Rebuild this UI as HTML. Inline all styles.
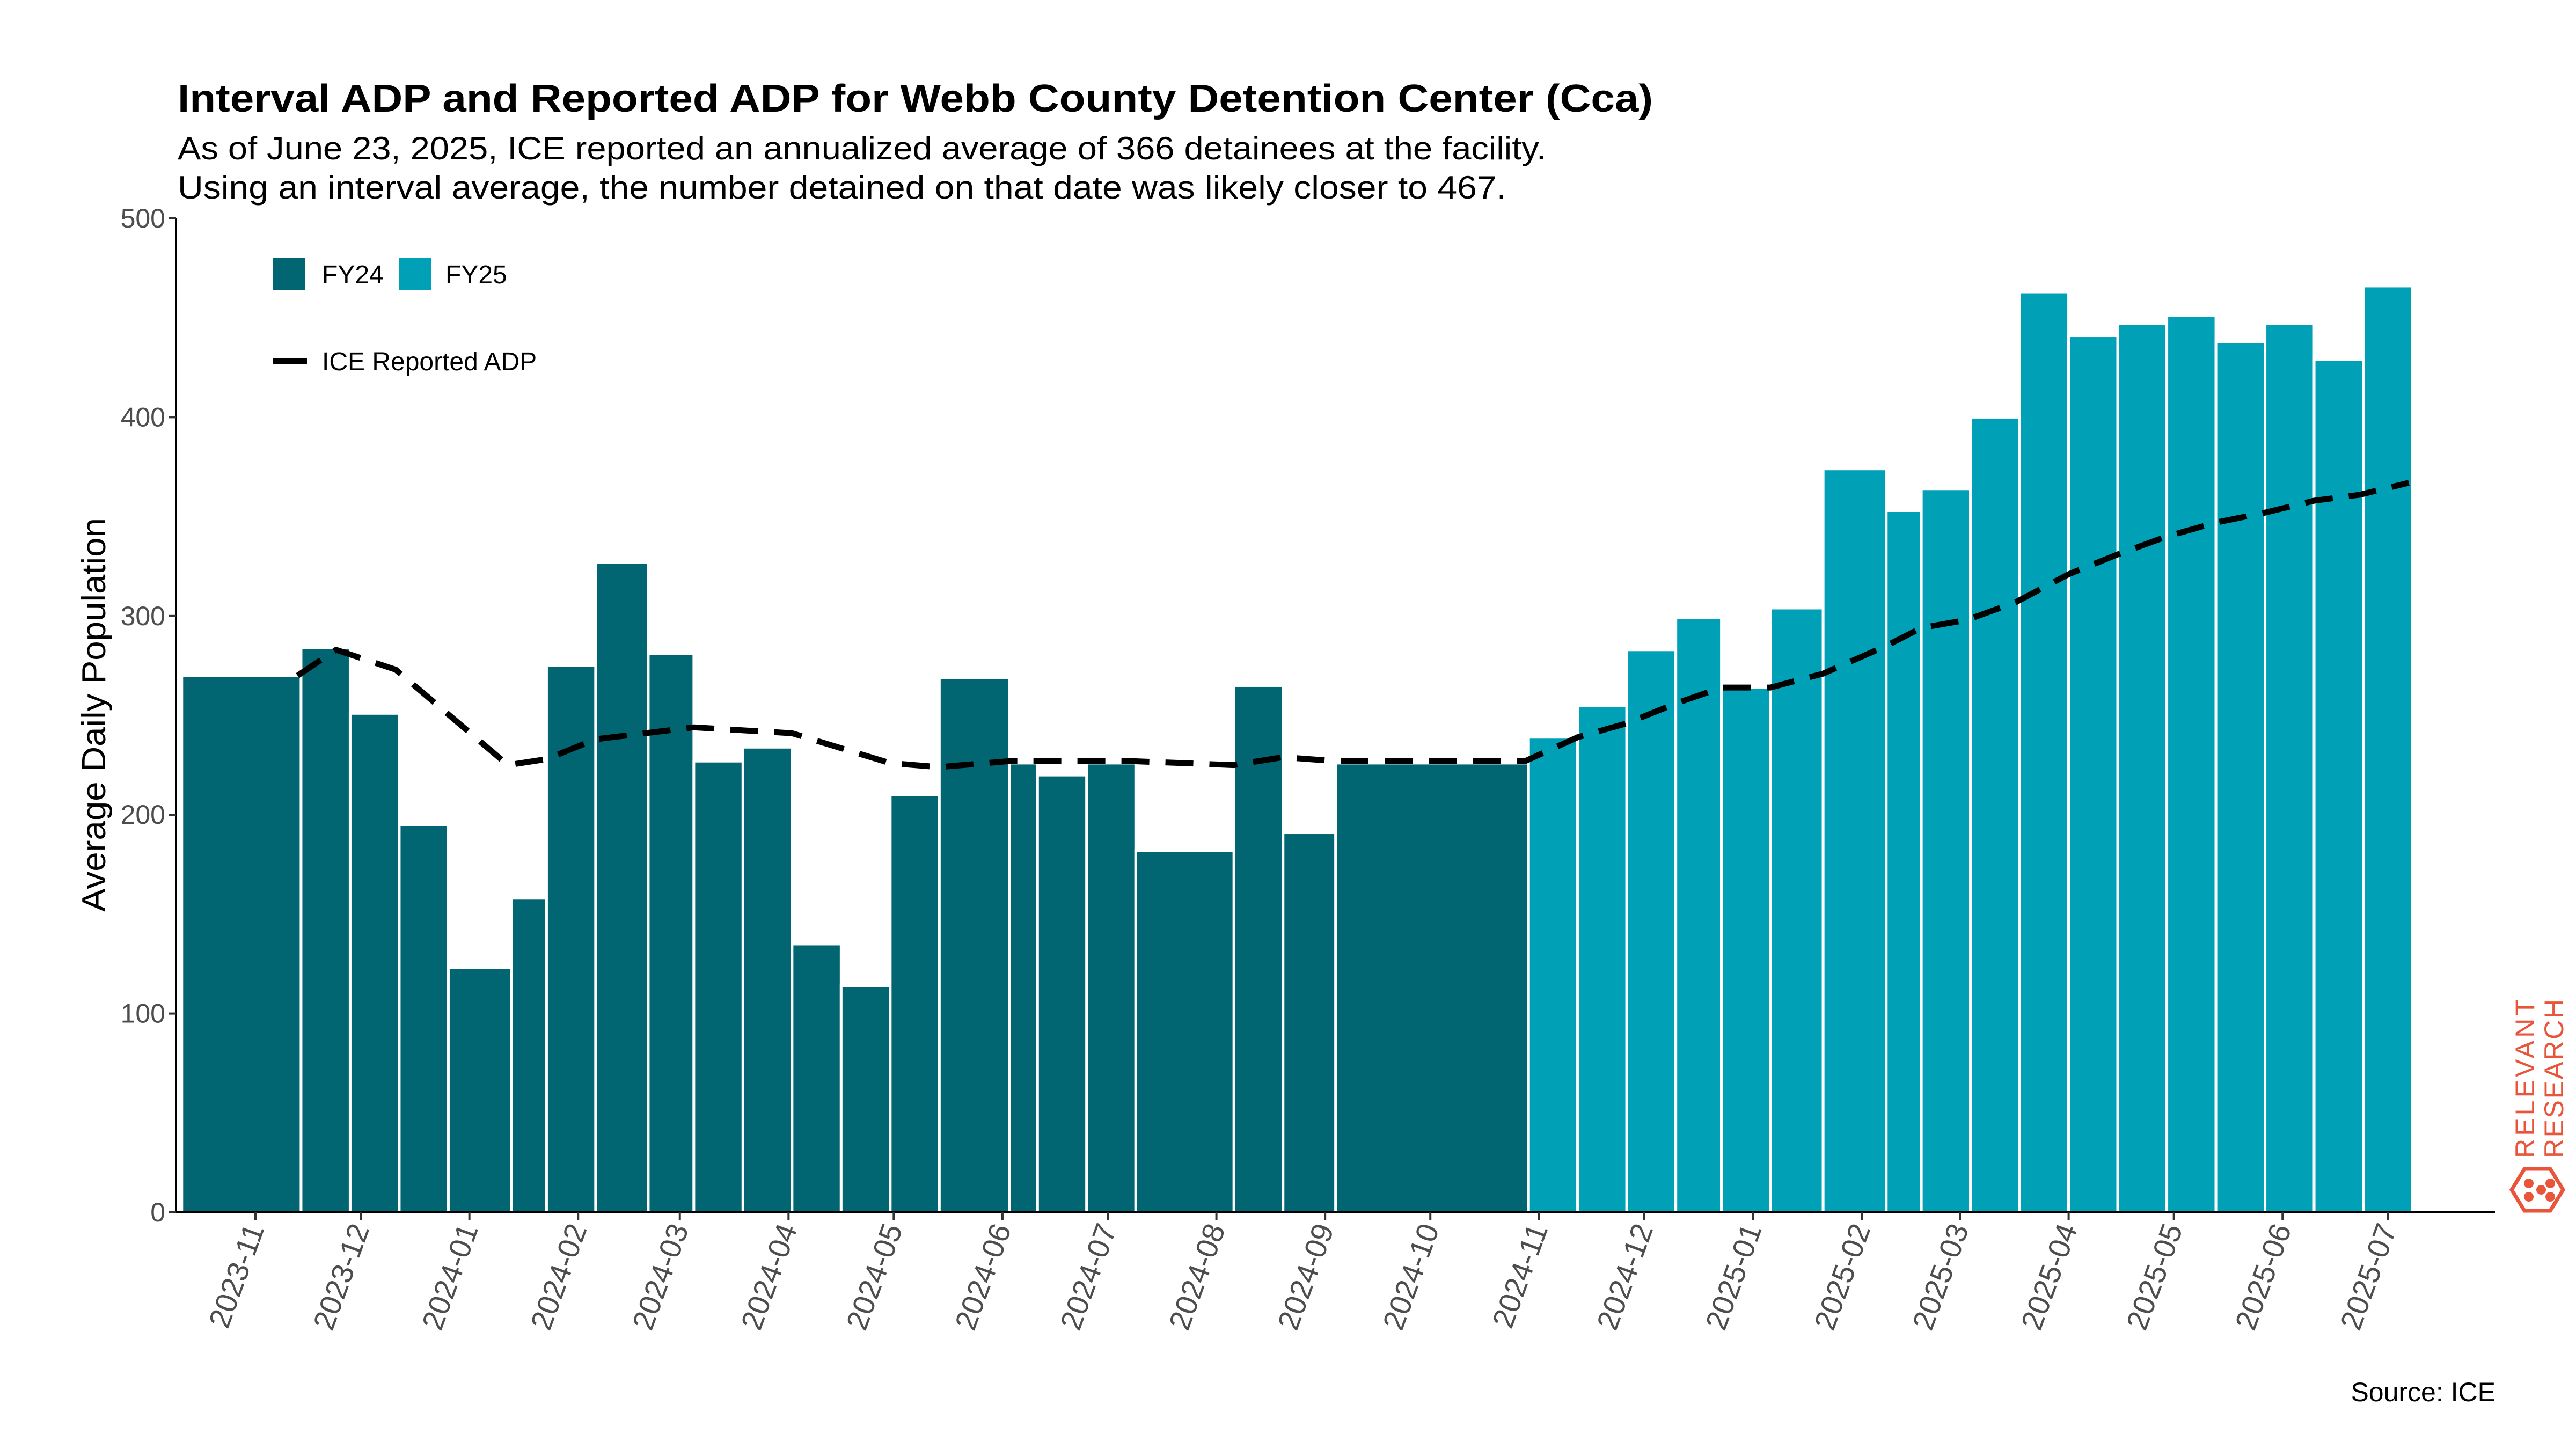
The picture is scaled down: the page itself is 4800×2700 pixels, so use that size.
<!DOCTYPE html>
<html><head><meta charset="utf-8"><style>
html,body{margin:0;padding:0;background:#fff;}
svg{display:block;font-family:"Liberation Sans",sans-serif;}
</style></head><body>
<svg id="chart" width="4800" height="2700" viewBox="0 0 4800 2700" xmlns="http://www.w3.org/2000/svg">
<rect width="4800" height="2700" fill="#fff"/>
<text x="331" y="208" font-size="72" font-weight="bold" textLength="2749" lengthAdjust="spacingAndGlyphs">Interval ADP and Reported ADP for Webb County Detention Center (Cca)</text>
<text x="331" y="297" font-size="60" textLength="2550" lengthAdjust="spacingAndGlyphs">As of June 23, 2025, ICE reported an annualized average of 366 detainees at the facility.</text>
<text x="331" y="370" font-size="60" textLength="2476" lengthAdjust="spacingAndGlyphs">Using an interval average, the number detained on that date was likely closer to 467.</text>
<g id="bars"></g>
<g id="line"></g>
<g id="axes"></g>
<text transform="translate(196,1332) rotate(-90)" text-anchor="middle" font-size="62" textLength="734" lengthAdjust="spacingAndGlyphs">Average Daily Population</text>
<g>
<rect x="508" y="480" width="61" height="61" fill="#016572"/>
<text x="600" y="528" font-size="48">FY24</text>
<rect x="744" y="480" width="60" height="61" fill="#00a1b7"/>
<text x="830" y="528" font-size="48">FY25</text>
<line x1="508" y1="673" x2="572" y2="673" stroke="#000" stroke-width="11"/>
<text x="600" y="690" font-size="48">ICE Reported ADP</text>
</g>
<text x="4650" y="2611" font-size="50" text-anchor="end">Source: ICE</text>
<g fill="#e8553a">
<text transform="translate(4722,2158) rotate(-90)" font-size="50" textLength="296" lengthAdjust="spacing">RELEVANT</text>
<text transform="translate(4776,2158) rotate(-90)" font-size="50" textLength="296" lengthAdjust="spacing">RESEARCH</text>
<polygon points="4704,2178 4752,2178 4776,2217 4752,2256 4704,2256 4680,2217" fill="none" stroke="#e8553a" stroke-width="7"/>
<circle cx="4712" cy="2205" r="9"/><circle cx="4712" cy="2230" r="9"/><circle cx="4735" cy="2217" r="9"/><circle cx="4752" cy="2205" r="9"/><circle cx="4752" cy="2230" r="9"/>
</g>
</svg>
<script>
// Bar interval edges, in days since 2023-11-01
const edgeDays = [-21,13,27,41,55,73,83,97,112,125,139,153,167,181,195,215,223,237,251,279,293,308,363,377,391,405,418,432,447,465,475,489,503,517,531,545,559,573,587,601,615];
const intervalADP = [270,284,251,195,123,158,275,327,281,227,234,135,114,210,269,226,220,226,182,265,191,226,239,255,283,299,264,304,374,353,364,400,463,441,447,451,438,447,429,466];
const fiscalYear = ["FY24","FY24","FY24","FY24","FY24","FY24","FY24","FY24","FY24","FY24","FY24","FY24","FY24","FY24","FY24","FY24","FY24","FY24","FY24","FY24","FY24","FY24","FY25","FY25","FY25","FY25","FY25","FY25","FY25","FY25","FY25","FY25","FY25","FY25","FY25","FY25","FY25","FY25","FY25","FY25"];
const lineDays = [12,23,40,58,72,83,97,125,153,181,195,215,250,279,293,308,362,377,391,405,418,432,447,465,475,488,502,517,531,545,559,573,587,600,614];
const reportedADP = [270,283,273,246,225,228,238,244,241,226,224,227,227,225,229,227,227,239,246,256,264,264,271,285,294,298,307,321,331,340,347,352,358,361,367];
const xTickLabels = ["2023-11","2023-12","2024-01","2024-02","2024-03","2024-04","2024-05","2024-06","2024-07","2024-08","2024-09","2024-10","2024-11","2024-12","2025-01","2025-02","2025-03","2025-04","2025-05","2025-06","2025-07"];
const yTicks = [0,100,200,300,400,500];

const NS = "http://www.w3.org/2000/svg";
const X0 = 476, PXD = 6.535, Y0 = 2259, PXV = 3.704;
const AXL = 328, AXR = 4650;
function x(d){ return X0 + d*PXD; }
function y(v){ return Y0 - v*PXV; }
function dayOf(s){ const p=s.split("-"); return (Date.UTC(+p[0],+p[1]-1,1)-Date.UTC(2023,10,1))/86400000; }
function mk(tag, attrs, parent){ const e=document.createElementNS(NS,tag); for(const k in attrs) e.setAttribute(k,attrs[k]); parent.appendChild(e); return e; }
const colors = {FY24:"#016572", FY25:"#00a1b7"};

const gb = document.getElementById("bars");
for(let i=0;i<intervalADP.length;i++){
  const x1=x(edgeDays[i]), x2=x(edgeDays[i+1]);
  const r = mk("rect",{x:x1,y:y(intervalADP[i]),width:Math.max(0,x2-x1),height:Y0-y(intervalADP[i]),fill:colors[fiscalYear[i]],stroke:"#fff","stroke-width":5},gb);
  
  
}

const gl = document.getElementById("line");
let d="";
for(let i=0;i<lineDays.length;i++){ d += (i?"L":"M")+x(lineDays[i]).toFixed(1)+","+y(reportedADP[i]).toFixed(1); }
const p = mk("path",{d:d,fill:"none",stroke:"#000","stroke-width":11,"stroke-dasharray":"52 30","stroke-linejoin":"round"},gl);



const ga = document.getElementById("axes");
const ax = mk("line",{x1:AXL,y1:Y0,x2:AXR,y2:Y0,stroke:"#000","stroke-width":4},ga);


const ay = mk("line",{x1:AXL,y1:y(500),x2:AXL,y2:Y0+2,stroke:"#000","stroke-width":4},ga);


yTicks.forEach(v=>{
  const t = mk("line",{x1:AXL-14,y1:y(v),x2:AXL,y2:y(v),stroke:"#333","stroke-width":4},ga);
  
  
  const l = mk("text",{x:AXL-20,y:y(v)+17,"font-size":50,"text-anchor":"end",fill:"#4d4d4d"},ga);
  l.textContent = v;
  
  
});
xTickLabels.forEach(s=>{
  const xx = x(dayOf(s));
  const t = mk("line",{x1:xx,y1:Y0,x2:xx,y2:Y0+14,stroke:"#333","stroke-width":4},ga);
  
  
  const l = mk("text",{transform:"translate("+(xx+17)+","+(Y0+30)+") rotate(-70)","font-size":56,"text-anchor":"end",fill:"#4d4d4d"},ga);
  l.textContent = s;
  
  
});
</script>
</body></html>
